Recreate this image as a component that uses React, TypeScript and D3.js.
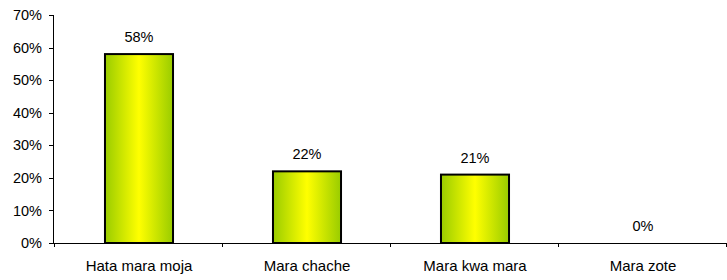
import React from "react";
import * as d3 from "d3";

const categories = ["Hata mara moja", "Mara chache", "Mara kwa mara", "Mara zote"];
const values = [58, 22, 21, 0];
const yTicks = [0, 10, 20, 30, 40, 50, 60, 70];

const W = 727;
const H = 280;
const margin = { left: 53, right: 0, top: 15, bottom: 37 };

const App = () => {
  const x = d3
    .scaleBand<string>()
    .domain(categories)
    .range([55, W - margin.right])
    .paddingInner(0.595)
    .paddingOuter(0.2975);

  const y = d3
    .scaleLinear()
    .domain([0, 70])
    .range([H - margin.bottom, margin.top]);

  const y0 = y(0);
  const font = "'Liberation Sans', Arial, sans-serif";
  const bandEdges = [55, ...categories.map((c) => (x(c) as number) + x.bandwidth() + (x.step() - x.bandwidth()) / 2)];

  return (
    <svg width={W} height={H} style={{ position: "absolute", left: 0, top: 0 }} fontFamily={font}>
      <defs>
        <linearGradient id="barGrad" x1="0" x2="1" y1="0" y2="0">
          <stop offset="0%" stopColor="#99cc00" />
          <stop offset="50%" stopColor="#ffff00" />
          <stop offset="100%" stopColor="#99cc00" />
        </linearGradient>
      </defs>

      {/* y axis */}
      <line x1={margin.left + 0.5} x2={margin.left + 0.5} y1={y(70)} y2={y0} stroke="#000" />
      {yTicks.map((t) => (
        <g key={t}>
          <line x1={margin.left - 4} x2={margin.left} y1={Math.round(y(t)) + 0.5} y2={Math.round(y(t)) + 0.5} stroke="#000" />
          <text x={42} y={y(t)} dy="0.35em" textAnchor="end" fontSize={14.5} fill="#000">
            {t}%
          </text>
        </g>
      ))}

      {/* x axis */}
      <line x1={margin.left} x2={W} y1={Math.round(y0) + 0.5} y2={Math.round(y0) + 0.5} stroke="#000" />
      {bandEdges.map((e, i) => (
        <line key={i} x1={Math.round(e) - 0.5} x2={Math.round(e) - 0.5} y1={y0} y2={y0 + 4} stroke="#000" />
      ))}

      {/* bars */}
      {categories.map((c, i) => {
        const bx = x(c) as number;
        const h = y0 - y(values[i]);
        return (
          <g key={c}>
            {values[i] > 0 && (
              <rect
                x={bx}
                y={y(values[i])}
                width={x.bandwidth()}
                height={h}
                fill="url(#barGrad)"
                stroke="#000"
                strokeWidth={2}
              />
            )}
            <text
              x={bx + x.bandwidth() / 2}
              y={y(values[i]) - 12}
              textAnchor="middle"
              fontSize={14.5}
              fill="#000"
            >
              {values[i]}%
            </text>
            <text x={bx + x.bandwidth() / 2} y={y0 + 28} textAnchor="middle" fontSize={15} fill="#000">
              {c}
            </text>
          </g>
        );
      })}
    </svg>
  );
};

export default App;
